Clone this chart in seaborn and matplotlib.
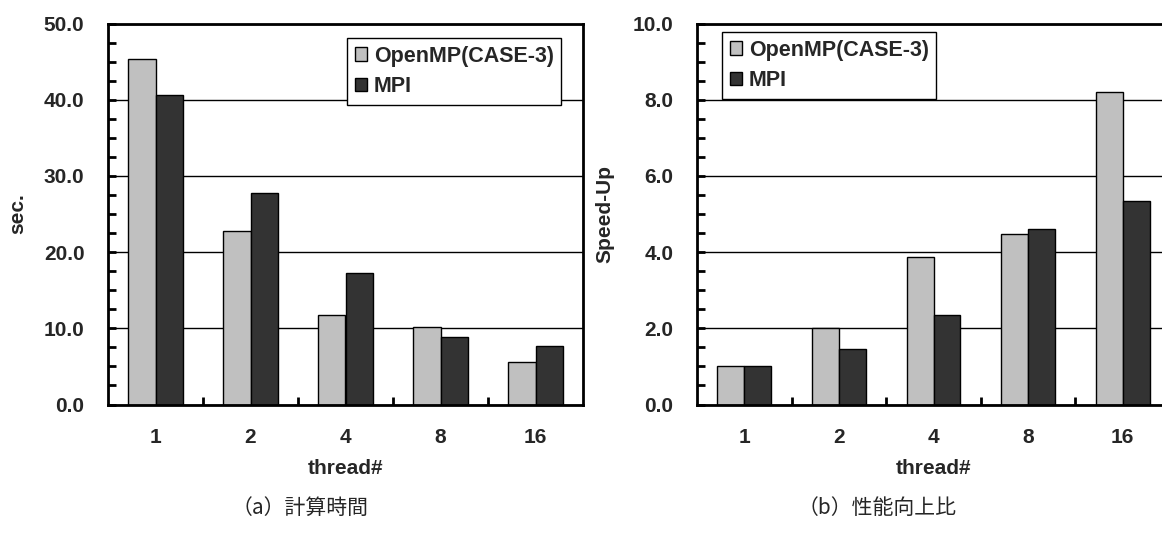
import matplotlib
matplotlib.use("Agg")
import matplotlib.pyplot as plt
from matplotlib.ticker import MultipleLocator, FixedLocator, FormatStrFormatter
import pandas as pd
import seaborn as sns

# --- data -------------------------------------------------------------
threads = ["1", "2", "4", "8", "16"]
series = ["OpenMP(CASE-3)", "MPI"]
time_openmp = [45.3, 22.8, 11.8, 10.2, 5.6]
time_mpi = [40.6, 27.8, 17.3, 8.9, 7.7]
speedup_openmp = [1.0, 2.0, 3.87, 4.47, 8.2]
speedup_mpi = [1.0, 1.46, 2.35, 4.61, 5.33]

captions = ["（a）計算時間", "（b）性能向上比"]

palette = {"OpenMP(CASE-3)": "#c0c0c0", "MPI": "#333333"}


def long_frame(a, b):
    return pd.DataFrame({
        "thread": threads * 2,
        "series": [series[0]] * len(threads) + [series[1]] * len(threads),
        "value": list(a) + list(b),
    })


sns.set_theme(style="white")
plt.rcParams["font.family"] = ["Liberation Sans", "DejaVu Sans"]
plt.rcParams["font.weight"] = "bold"

W, H = 1162, 534
fig = plt.figure(figsize=(W / 100, H / 100), dpi=100)


def px_axes(x0, x1, y0, y1):
    return fig.add_axes([x0 / W, 1 - y1 / H, (x1 - x0) / W, (y1 - y0) / H])


ax_a = px_axes(108, 583, 23.5, 404.5)
ax_b = px_axes(697, 1170, 23.5, 404.5)

panels = [
    (ax_a, long_frame(time_openmp, time_mpi), "sec.", 50, 10, 2.5, (347, 38), 27),
    (ax_b, long_frame(speedup_openmp, speedup_mpi), "Speed-Up", 10, 2, 0.5, (722, 32), 614),
]

for ax, df, ylabel, ymax, major, minor, (lx, ly), ylab_x in panels:
    sns.barplot(data=df, x="thread", y="value", hue="series", order=threads,
                hue_order=series, palette=palette, width=0.57, gap=0,
                edgecolor="black", linewidth=1.0, saturation=1, ax=ax,
                zorder=3)
    ax.set_ylim(0, ymax)
    ax.set_xlim(-0.5, len(threads) - 0.5)
    ax.yaxis.set_major_locator(MultipleLocator(major))
    ax.yaxis.set_minor_locator(MultipleLocator(minor))
    ax.yaxis.set_major_formatter(FormatStrFormatter("%.1f"))
    ax.xaxis.set_minor_locator(FixedLocator([i + 0.5 for i in range(len(threads) - 1)]))
    ax.grid(axis="y", which="major", color="black", linewidth=1.0, zorder=1)
    ax.set_axisbelow(True)
    for s in ax.spines.values():
        s.set_linewidth(2.0)
        s.set_color("black")
        s.set_zorder(5)
    ax.tick_params(axis="both", which="both", direction="in", color="black",
                   width=2.0, length=6, labelsize=15)
    ax.tick_params(axis="y", which="both", right=False, left=True, pad=17)
    ax.tick_params(axis="x", which="both", top=False, bottom=True, pad=17)
    for lab in ax.get_xticklabels() + ax.get_yticklabels():
        lab.set_fontweight("bold")
    ax.set_ylabel(ylabel, fontsize=15, fontweight="bold")
    ax.set_xlabel("thread#", fontsize=15, fontweight="bold")
    bb = ax.get_position()
    ax_w = bb.width * W
    ax_h = bb.height * H
    ax_x0 = bb.x0 * W
    ax_ytop = (1 - bb.y1) * H
    ax.yaxis.set_label_coords((ylab_x - ax_x0) / ax_w, 0.5)
    ax.xaxis.set_label_coords(0.5, -(459 - 404.5) / ax_h)

    handles, labels = ax.get_legend_handles_labels()
    leg = ax.legend(handles, labels, loc="upper left",
                    bbox_to_anchor=((lx - ax_x0) / ax_w, 1 - (ly - ax_ytop) / ax_h),
                    frameon=True, fancybox=False, shadow=False, framealpha=1,
                    edgecolor="black", prop={"weight": "bold", "size": 15.5},
                    handlelength=0.6, handleheight=0.6, handletextpad=0.3,
                    labelspacing=0.45, borderpad=0.35, borderaxespad=0)
    leg.get_frame().set_linewidth(1.0)
    leg.set_zorder(6)

for text, cx in zip(captions, [300, 877]):
    fig.text(cx / W, 1 - 508 / H, text, ha="center", va="center", fontsize=15,
             fontweight="normal", family=["Noto Sans CJK JP", "DejaVu Sans"])

fig.savefig("out.png", dpi=100)
